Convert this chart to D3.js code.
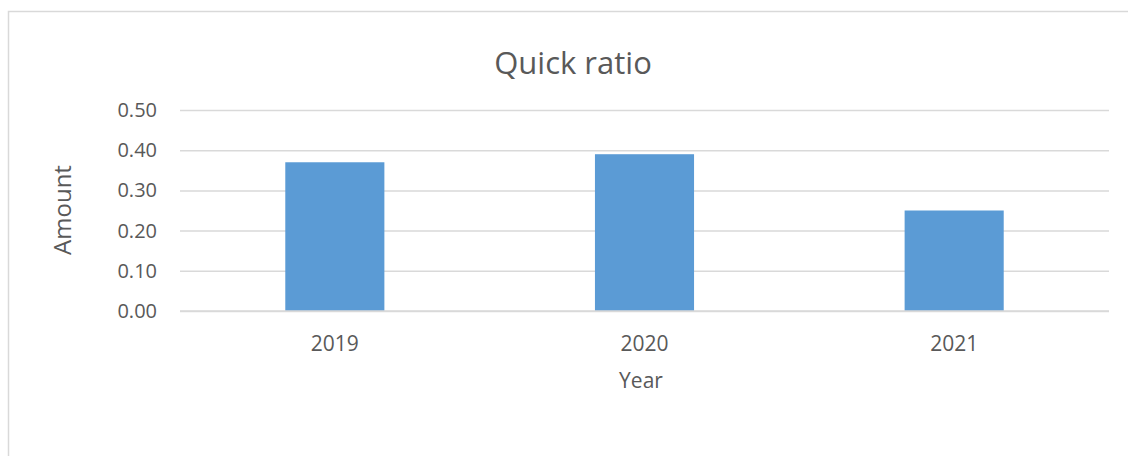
<!DOCTYPE html>
<html>
<head>
<meta charset="utf-8">
<script src="https://cdn.jsdelivr.net/npm/d3@7"></script>
<style>
  body { margin: 0; background: #fff; }
  text { font-family: "Open Sans", "Noto Sans", sans-serif; fill: #595959; }
</style>
</head>
<body>
<div id="chart"></div>
<script>
/* DATA */
const years = ["2019", "2020", "2021"];
const quickRatio = [0.37, 0.39, 0.25];
const yTicks = [0, 0.1, 0.2, 0.3, 0.4, 0.5];

/* LAYOUT */
const width = 1128;
const height = 456;
const plot = { left: 180, right: 1109, top: 110, bottom: 311 };

const svg = d3.select("#chart")
  .append("svg")
  .attr("width", width)
  .attr("height", height);

// chart frame (only top and left edge show in the crop)
svg.append("path")
  .attr("d", `M8.5,${height} L8.5,11.5 L${width},11.5`)
  .attr("fill", "none")
  .attr("stroke", "#d9d9d9")
  .attr("stroke-width", 1.5);

// SCALES
const xScale = d3.scaleBand()
  .domain(years)
  .range([plot.left, plot.right])
  .paddingInner(0.68)
  .paddingOuter(0.34);

const yScale = d3.scaleLinear()
  .domain([0, 0.5])
  .range([plot.bottom, plot.top]);

// GRIDLINES + Y TICK LABELS
const yAxis = svg.append("g")
  .attr("transform", `translate(${plot.left},0)`)
  .call(d3.axisLeft(yScale)
    .tickValues(yTicks)
    .tickFormat(d3.format(".2f"))
    .tickSize(-(plot.right - plot.left))
    .tickPadding(23));

yAxis.select(".domain").remove();
yAxis.selectAll(".tick line")
  .attr("stroke", "#d9d9d9")
  .attr("stroke-width", 1.5);
yAxis.selectAll(".tick text")
  .style("font-size", "20px")
  .attr("fill", "#595959");

// BARS
svg.selectAll(".bar")
  .data(years.map((y, i) => ({ year: y, value: quickRatio[i] })))
  .join("rect")
    .attr("class", "bar")
    .attr("x", d => xScale(d.year))
    .attr("y", d => yScale(d.value))
    .attr("width", xScale.bandwidth())
    .attr("height", d => yScale(0) - yScale(d.value))
    .attr("fill", "#5b9bd5");

// baseline over bars
svg.append("line")
  .attr("x1", plot.left)
  .attr("x2", plot.right)
  .attr("y1", yScale(0))
  .attr("y2", yScale(0))
  .attr("stroke", "#d9d9d9")
  .attr("stroke-width", 1.5);

// X TICK LABELS
const xAxis = svg.append("g")
  .attr("transform", `translate(0,${plot.bottom})`)
  .call(d3.axisBottom(xScale).tickSize(0).tickPadding(25));

xAxis.select(".domain").remove();
xAxis.selectAll(".tick text")
  .style("font-size", "21px")
  .attr("fill", "#595959");

// TITLE
svg.append("text")
  .attr("x", 573)
  .attr("y", 74)
  .attr("text-anchor", "middle")
  .style("font-size", "31px")
  .text("Quick ratio");

// AXIS TITLES
svg.append("text")
  .attr("x", 641)
  .attr("y", 388)
  .attr("text-anchor", "middle")
  .style("font-size", "21px")
  .text("Year");

svg.append("text")
  .attr("transform", "translate(71,210) rotate(-90)")
  .attr("text-anchor", "middle")
  .style("font-size", "24px")
  .text("Amount");
</script>
</body>
</html>
